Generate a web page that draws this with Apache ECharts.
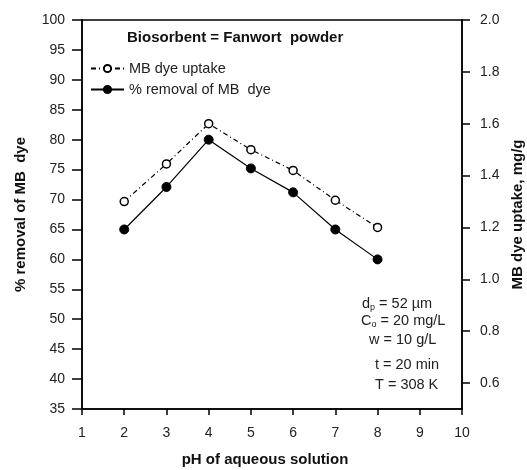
<!DOCTYPE html>
<html>
<head>
<meta charset="utf-8">
<script src="https://cdn.jsdelivr.net/npm/echarts@6/dist/echarts.min.js"></script>
<style>
  html, body { margin: 0; padding: 0; background: #fff; }
  #chart { width: 527px; height: 470px; }
</style>
</head>
<body>
<div id="chart"></div>
<script>
// datos
const phValues = [2, 3, 4, 5, 6, 7, 8];
const removalPct = [65, 72.1, 80, 75.2, 71.2, 65, 60];        // eje izquierdo (%)
const dyeUptake = [1.30, 1.445, 1.60, 1.50, 1.42, 1.305, 1.20]; // eje derecho (mg/g)
const rightTicks = [0.6, 0.8, 1.0, 1.2, 1.4, 1.6, 1.8, 2.0];

const FONT = '"Liberation Sans", Arial, sans-serif';
const TXT = '#222';

const chart = echarts.init(document.getElementById('chart'));

const option = {
    animation: false,
    backgroundColor: '#fff',
    textStyle: { fontFamily: FONT },
    grid: {
        left: 82, right: 65, top: 20, bottom: 61,
        outerBoundsMode: 'none',
        containLabel: false,
        show: true, borderColor: '#000', borderWidth: 1.5
    },
    title: {
        text: 'Biosorbent = Fanwort  powder',
        left: 127, top: 30, padding: 0,
        textStyle: { fontFamily: FONT, fontSize: 15, fontWeight: 'bold', color: '#111' }
    },
    legend: {
        orient: 'vertical',
        left: 90, top: 61, padding: 0,
        itemWidth: 33, itemHeight: 9, itemGap: 6,
        data: ['MB dye uptake', '% removal of MB  dye'],
        textStyle: { fontFamily: FONT, fontSize: 14.5, color: TXT }
    },
    xAxis: {
        type: 'value',
        min: 1, max: 10, interval: 1,
        name: 'pH of aqueous solution',
        nameLocation: 'middle',
        nameGap: 43,
        nameTextStyle: { fontFamily: FONT, fontSize: 15, fontWeight: 'bold', color: '#111', padding: [0, 14, 0, 0] },
        axisLine: { lineStyle: { color: '#000', width: 1.5 } },
        axisTick: { inside: false, length: 6, lineStyle: { color: '#000', width: 1.5 } },
        axisLabel: { margin: 17, fontSize: 14, color: TXT, fontFamily: FONT },
        splitLine: { show: false }
    },
    yAxis: [
        {
            type: 'value',
            min: 35, max: 100, interval: 5,
            name: '% removal of MB  dye',
            nameLocation: 'middle',
            nameRotate: 90,
            nameGap: 54,
            nameTextStyle: { fontFamily: FONT, fontSize: 15, fontWeight: 'bold', color: '#111' },
            axisLine: { show: true, lineStyle: { color: '#000', width: 1.5 } },
            axisTick: { show: true, length: 10, lineStyle: { color: '#000', width: 1.5 } },
            axisLabel: { margin: 17, fontSize: 14, color: TXT, fontFamily: FONT },
            splitLine: { show: false }
        },
        {
            type: 'value',
            position: 'right',
            min: 0.5, max: 2.0,
            name: 'MB dye uptake, mg/g',
            nameLocation: 'middle',
            nameRotate: 90,
            nameGap: 46,
            nameTextStyle: { fontFamily: FONT, fontSize: 15, fontWeight: 'bold', color: '#111' },
            axisLine: { show: true, lineStyle: { color: '#000', width: 1.5 } },
            axisTick: { show: true, length: 8, customValues: rightTicks, lineStyle: { color: '#000', width: 1.5 } },
            axisLabel: {
                margin: 18, fontSize: 14, color: TXT, fontFamily: FONT,
                customValues: rightTicks,
                formatter: v => v.toFixed(1)
            },
            splitLine: { show: false }
        }
    ],
    graphic: [
        {
            type: 'text', left: 362, top: 296,
            style: {
                text: 'd{s|p} = 52 µm',
                font: '14.5px ' + FONT, fill: TXT,
                rich: { s: { fontSize: 9, padding: [9, 0, 0, 0], fill: TXT } }
            }
        },
        {
            type: 'text', left: 361, top: 313,
            style: {
                text: 'C{s|o} = 20 mg/L',
                font: '14.5px ' + FONT, fill: TXT,
                rich: { s: { fontSize: 9, padding: [9, 0, 0, 0], fill: TXT } }
            }
        },
        { type: 'text', left: 369, top: 332, style: { text: 'w = 10 g/L', font: '14.5px ' + FONT, fill: TXT } },
        { type: 'text', left: 375, top: 357, style: { text: 't = 20 min', font: '14.5px ' + FONT, fill: TXT } },
        { type: 'text', left: 375, top: 377, style: { text: 'T = 308 K', font: '14.5px ' + FONT, fill: TXT } }
    ],
    series: [
        {
            name: 'MB dye uptake',
            type: 'line',
            yAxisIndex: 1,
            data: phValues.map((x, i) => [x, dyeUptake[i]]),
            symbol: 'circle',
            symbolSize: 8,
            itemStyle: { color: '#fff', borderColor: '#000', borderWidth: 1.5 },
            lineStyle: { color: '#000', width: 1.2, type: [5, 3, 1, 3] },
            z: 3
        },
        {
            name: '% removal of MB  dye',
            type: 'line',
            yAxisIndex: 0,
            data: phValues.map((x, i) => [x, removalPct[i]]),
            symbol: 'circle',
            symbolSize: 9,
            itemStyle: { color: '#000', borderColor: '#000', borderWidth: 1 },
            lineStyle: { color: '#000', width: 1.2 },
            z: 3
        }
    ]
};

chart.setOption(option);
</script>
</body>
</html>
